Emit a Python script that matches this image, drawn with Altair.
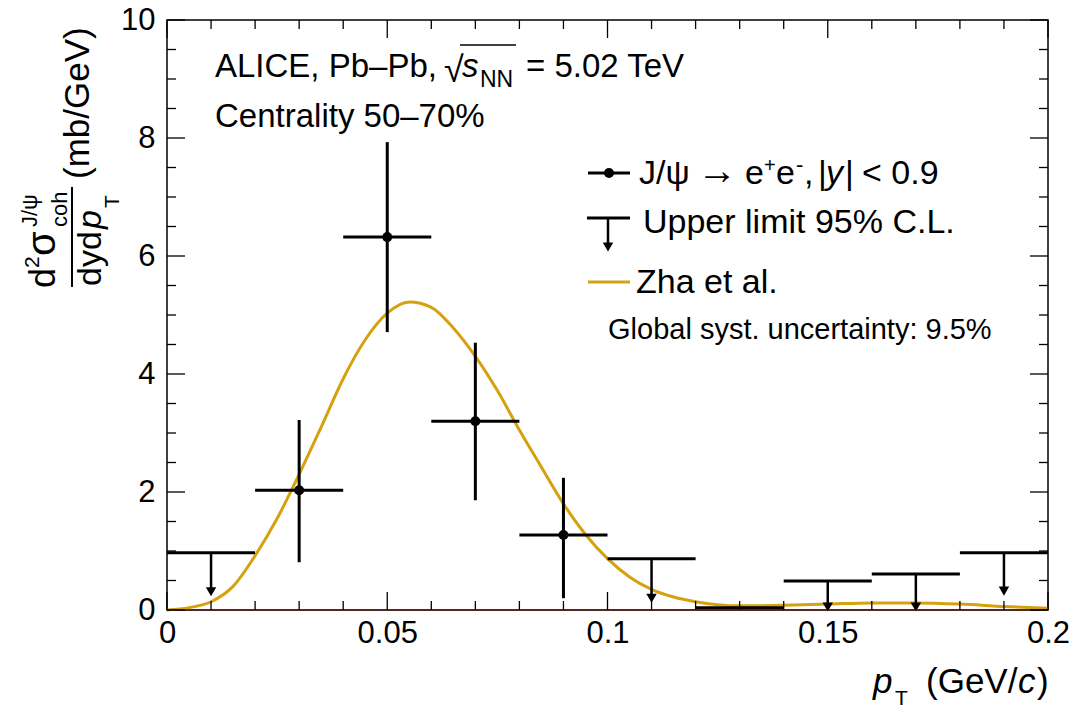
import altair as alt
import pandas as pd

FONT = "Liberation Sans"
W, H = 881, 590          # plot area
OX, OY = 167, 20         # plot origin in page pixels

# ---- measured data -------------------------------------------------------
pt = [0.03, 0.05, 0.07, 0.09]
pt_lo = [0.02, 0.04, 0.06, 0.08]
pt_hi = [0.04, 0.06, 0.08, 0.10]
xsec = [2.03, 6.32, 3.20, 1.27]
xsec_lo = [0.81, 4.71, 1.86, 0.20]
xsec_hi = [3.22, 7.93, 4.53, 2.24]

ul_pt = [0.01, 0.11, 0.13, 0.15, 0.17, 0.19]
ul_lo = [0.00, 0.10, 0.12, 0.14, 0.16, 0.18]
ul_hi = [0.02, 0.12, 0.14, 0.16, 0.18, 0.20]
ul_val = [0.97, 0.87, 0.04, 0.49, 0.61, 0.97]
ul_arrow = [0.31, 0.20, None, 0.05, 0.05, 0.32]

model_pt = [0.000, 0.005, 0.010, 0.015, 0.020, 0.025, 0.030, 0.035, 0.040,
            0.045, 0.050, 0.055, 0.060, 0.065, 0.070, 0.075, 0.080, 0.085,
            0.090, 0.095, 0.100, 0.105, 0.110, 0.115, 0.120, 0.125, 0.130,
            0.140, 0.150, 0.160, 0.170, 0.180, 0.190, 0.200]
model_val = [0.00, 0.04, 0.14, 0.40, 0.92, 1.55, 2.30, 3.10, 3.92,
             4.58, 5.03, 5.22, 5.13, 4.78, 4.30, 3.72, 3.05, 2.42,
             1.80, 1.28, 0.87, 0.56, 0.35, 0.22, 0.14, 0.09, 0.07,
             0.08, 0.10, 0.12, 0.12, 0.10, 0.06, 0.03]

x_major = [0, 0.05, 0.1, 0.15, 0.2]
x_minor = [0.01, 0.02, 0.03, 0.04, 0.06, 0.07, 0.08, 0.09, 0.11, 0.12,
           0.13, 0.14, 0.16, 0.17, 0.18, 0.19]
y_major = [0, 2, 4, 6, 8, 10]
y_minor = [0.5, 1, 1.5, 2.5, 3, 3.5, 4.5, 5, 5.5, 6.5, 7, 7.5, 8.5, 9, 9.5]

GOLD = "#D4A20F"

# ---- tables --------------------------------------------------------------
pts = pd.DataFrame({"pt": pt, "lo": pt_lo, "hi": pt_hi, "v": xsec,
                    "vlo": xsec_lo, "vhi": xsec_hi})
uls = pd.DataFrame({"pt": ul_pt, "lo": ul_lo, "hi": ul_hi, "v": ul_val,
                    "tip": ul_arrow})
arr = uls.dropna()
model = pd.DataFrame({"pt": model_pt, "v": model_val})

xs = alt.Scale(domain=[0, 0.2], nice=False, zero=False)
ys = alt.Scale(domain=[0, 10], nice=False, zero=False)
xax = alt.Axis(values=x_major, format=".2~f", title=None, ticks=False,
               domain=False, grid=False, labelFlush=False, labelPadding=8)
yax = alt.Axis(values=y_major, format="d", title=None, ticks=False,
               domain=False, grid=False, labelPadding=12)


def X(f):
    return alt.X(f, type="quantitative", scale=xs, axis=xax)


def Y(f):
    return alt.Y(f, type="quantitative", scale=ys, axis=yax)


layers = []

# model curve (carries the axes)
layers.append(alt.Chart(model).mark_line(color=GOLD, strokeWidth=3,
                                         interpolate="monotone").encode(
    x=X("pt"), y=Y("v")))

# upper limits
layers.append(alt.Chart(uls).mark_rule(color="black", strokeWidth=3).encode(
    x=X("lo"), x2="hi", y=Y("v")))
layers.append(alt.Chart(arr).mark_rule(color="black", strokeWidth=2.5).encode(
    x=X("pt"), y=Y("v"), y2="tip"))
layers.append(alt.Chart(arr).mark_point(shape="triangle-down", filled=True,
                                        color="black", size=110, opacity=1).encode(
    x=X("pt"), y=Y("tip")))

# data points
layers.append(alt.Chart(pts).mark_rule(color="black", strokeWidth=3).encode(
    x=X("lo"), x2="hi", y=Y("v")))
layers.append(alt.Chart(pts).mark_rule(color="black", strokeWidth=3).encode(
    x=X("pt"), y=Y("vlo"), y2="vhi"))
layers.append(alt.Chart(pts).mark_point(shape="circle", filled=True,
                                        color="black", size=100, opacity=1).encode(
    x=X("pt"), y=Y("v")))

# zero line
layers.append(alt.Chart(pd.DataFrame({"v": [0]})).mark_rule(
    color="#5a2418", strokeWidth=1.5).encode(
    y=Y("v"), x=alt.value(0), x2=alt.value(W)))


# ticks on all four sides (inward)
def xt(vals, ln):
    d = pd.DataFrame({"t": vals})
    b = alt.Chart(d).mark_rule(color="black", strokeWidth=1.3).encode(
        x=X("t"), y=alt.value(H), y2=alt.value(H - ln))
    t = alt.Chart(d).mark_rule(color="black", strokeWidth=1.3).encode(
        x=X("t"), y=alt.value(0), y2=alt.value(ln))
    return [b, t]


def yt(vals, ln):
    d = pd.DataFrame({"t": vals})
    l = alt.Chart(d).mark_rule(color="black", strokeWidth=1.3).encode(
        y=Y("t"), x=alt.value(0), x2=alt.value(ln))
    r = alt.Chart(d).mark_rule(color="black", strokeWidth=1.3).encode(
        y=Y("t"), x=alt.value(W), x2=alt.value(W - ln))
    return [l, r]


layers += xt(x_major, 18) + xt(x_minor, 9) + yt(y_major, 18) + yt(y_minor, 9)


# ---- annotation text -------------------------------------------------------
def txt(s, x, y, size, angle=0, style="normal", align="left",
        baseline="alphabetic"):
    return alt.Chart(pd.DataFrame({"t": [s]})).mark_text(
        align=align, baseline=baseline, fontSize=size, font=FONT,
        fontStyle=style, angle=angle, color="black").encode(
        text="t:N", x=alt.value(x - OX), y=alt.value(y - OY))


def hline(x1, x2, y, color="black", w=1.5):
    return alt.Chart(pd.DataFrame({"a": [0]})).mark_rule(
        color=color, strokeWidth=w).encode(
        x=alt.value(x1 - OX), x2=alt.value(x2 - OX), y=alt.value(y - OY))


def vline(x, y1, y2, color="black", w=1.5):
    return alt.Chart(pd.DataFrame({"a": [0]})).mark_rule(
        color=color, strokeWidth=w).encode(
        x=alt.value(x - OX), y=alt.value(y1 - OY), y2=alt.value(y2 - OY))


def sym(x, y, shape, size):
    return alt.Chart(pd.DataFrame({"a": [0]})).mark_point(
        shape=shape, filled=True, color="black", size=size, opacity=1).encode(
        x=alt.value(x - OX), y=alt.value(y - OY))


# top-left label
layers += [
    txt("ALICE, Pb\u2013Pb,", 215, 77, 33),
    txt("\u221a", 444, 82, 36),
    hline(460, 516, 45, w=1.5),
    txt("s", 462, 77, 33, style="italic"),
    txt("NN", 480, 87, 23),
    txt("= 5.02 TeV", 526, 77, 33),
    txt("Centrality 50\u201370%", 215, 127, 33),
]

# legend
LS = 34
layers += [
    hline(588, 630, 173, w=3),
    sym(609, 173, "circle", 100),
    txt("J/\u03c8", 639, 184, LS),
    txt("\u2192", 697, 184, 40),
    txt("e", 745, 184, LS),
    txt("+", 764, 172, 20),
    txt("e", 776, 184, LS),
    txt("-", 796, 172, 22),
    txt(",", 804, 184, LS),
    txt("|", 818, 184, LS),
    txt("y", 826, 184, LS, style="italic"),
    txt("|", 845, 184, LS),
    txt("< 0.9", 862, 184, LS),
    hline(587, 630, 218, w=3),
    vline(608, 218, 244, w=2.5),
    sym(608, 247, "triangle-down", 110),
    txt("Upper limit 95% C.L.", 643, 233, LS),
    hline(588, 630, 282, color=GOLD, w=3),
    txt("Zha et al.", 636, 293, LS),
    txt("Global syst. uncertainty: 9.5%", 608, 339, 29),
]

# y-axis title (rotated)
layers += [
    txt("d", 55, 288, 36, angle=270),
    txt("2", 39, 268, 21, angle=270),
    txt("\u03c3", 55, 256, 40, angle=270),
    txt("J/\u03c8", 37, 227, 22, angle=270),
    txt("coh", 67, 227, 22, angle=270),
    vline(72, 187, 287, w=2),
    txt("dyd", 101, 286, 34, angle=270),
    txt("p", 101, 229, 34, angle=270, style="italic"),
    txt("T", 119, 208, 21, angle=270),
    txt("(mb/GeV)", 89, 179, 35, angle=270),
]

# x-axis title
layers += [
    txt("p", 873, 693, 35, style="italic"),
    txt("T", 895, 705, 21),
    txt("(GeV/", 926, 693, 35),
    txt("c", 1018, 693, 35, style="italic"),
    txt(")", 1037, 693, 35),
]

chart = alt.layer(*layers).properties(
    width=W, height=H,
    padding={"left": OX, "top": OY, "right": 1073 - OX - W,
             "bottom": 709 - OY - H},
    autosize="none",
    background="white",
).configure_view(stroke="black", strokeWidth=1.5).configure_axis(
    labelFont=FONT, labelFontSize=31, labelColor="black")

chart.save("out.html", embed_options={"renderer": "svg", "actions": False})
